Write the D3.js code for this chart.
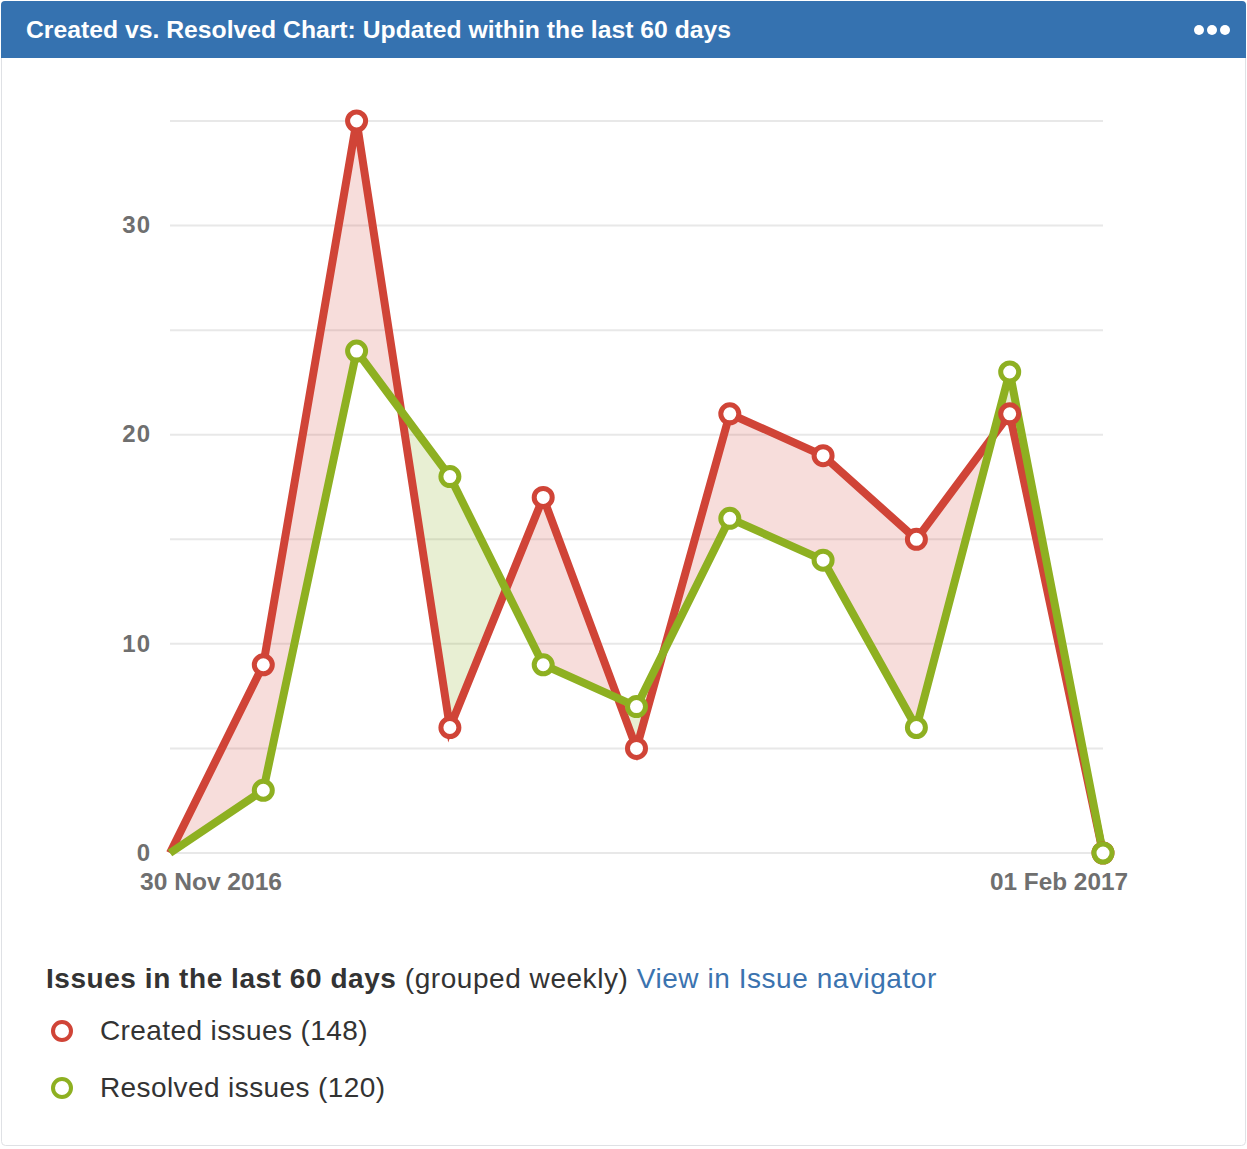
<!DOCTYPE html>
<html>
<head>
<meta charset="utf-8">
<title>Created vs. Resolved</title>
<script src="https://cdn.jsdelivr.net/npm/d3@7"></script>
<style>
  body { margin: 0; background: #fff; font-family: "Liberation Sans", Arial, sans-serif; }
</style>
</head>
<body>
<script>
// weekly buckets, 30 Nov 2016 .. 01 Feb 2017
var weeks = [0, 1, 2, 3, 4, 5, 6, 7, 8, 9, 10];
var created = [0, 9, 35, 6, 17, 5, 21, 19, 15, 21, 0];
var resolved = [0, 3, 24, 18, 9, 7, 16, 14, 6, 23, 0];
var yTicks = [0, 10, 20, 30];
var gridTicks = [0, 5, 10, 15, 20, 25, 30, 35];
var dateLabels = ["30 Nov 2016", "01 Feb 2017"];
var title = "Created vs. Resolved Chart: Updated within the last 60 days";

var red = "#d04437", green = "#8eb021";
var W = 1247, H = 1149;

var svg = d3.select("body").append("svg").attr("width", W).attr("height", H);

// card
svg.append("rect").attr("x", 1.5).attr("y", 1.5).attr("width", W - 3).attr("height", H - 5)
  .attr("rx", 4).attr("fill", "#fff").attr("stroke", "#dfe1e5");
svg.append("path")
  .attr("d", "M1,5 a4,4 0 0 1 4,-4 H" + (W - 5) + " a4,4 0 0 1 4,4 V58 H1 Z")
  .attr("fill", "#3572b0");
svg.append("text").attr("x", 26).attr("y", 38).text(title)
  .attr("fill", "#fff").attr("font-weight", "bold").attr("font-size", 23)
  .attr("textLength", 705).attr("lengthAdjust", "spacingAndGlyphs");
[1199, 1212, 1225].forEach(function (cx) {
  svg.append("circle").attr("cx", cx).attr("cy", 30).attr("r", 5).attr("fill", "#fff");
});

var x = d3.scaleLinear().domain([0, 10]).range([170, 1103]);
var y = d3.scaleLinear().domain([0, 35]).range([853, 121]);

// grid
svg.append("g").selectAll("line").data(gridTicks).join("line")
  .attr("x1", 170).attr("x2", 1103)
  .attr("y1", function (d) { return y(d); }).attr("y2", function (d) { return y(d); })
  .attr("stroke", "#e8e8e8").attr("stroke-width", 2);

// y axis labels
var yAxis = d3.axisLeft(y).tickValues(yTicks).tickSize(0).tickPadding(0);
var ya = svg.append("g").attr("transform", "translate(151,0)").call(yAxis);
ya.select(".domain").remove();
ya.selectAll("text").attr("font-family", "Liberation Sans, Arial, sans-serif")
  .attr("font-size", 24).attr("font-weight", "bold").attr("fill", "#6f6f6f")
  .attr("letter-spacing", 1).attr("dy", "0.3em");

// x labels
svg.append("text").attr("x", x(0) - 30).attr("y", 890).text(dateLabels[0])
  .attr("font-size", 24).attr("font-weight", "bold").attr("fill", "#6f6f6f")
  .attr("textLength", 142).attr("lengthAdjust", "spacingAndGlyphs");
svg.append("text").attr("x", x(10) - 113).attr("y", 890).text(dateLabels[1])
  .attr("font-size", 24).attr("font-weight", "bold").attr("fill", "#6f6f6f")
  .attr("textLength", 138).attr("lengthAdjust", "spacingAndGlyphs");

// difference fill
var defs = svg.append("defs");
defs.append("clipPath").attr("id", "below").append("path")
  .attr("d", d3.area().x(function (d) { return x(d); }).y0(H).y1(function (d) { return y(created[d]); })(weeks));
defs.append("clipPath").attr("id", "above").append("path")
  .attr("d", d3.area().x(function (d) { return x(d); }).y0(0).y1(function (d) { return y(created[d]); })(weeks));

var between = d3.area().x(function (d) { return x(d); })
  .y0(function (d) { return y(resolved[d]); }).y1(function (d) { return y(created[d]); });
svg.append("path").attr("d", between(weeks)).attr("clip-path", "url(#below)")
  .attr("fill", red).attr("fill-opacity", 0.18);
svg.append("path").attr("d", between(weeks)).attr("clip-path", "url(#above)")
  .attr("fill", green).attr("fill-opacity", 0.2);

function drawSeries(vals, color) {
  var line = d3.line().x(function (d, i) { return x(i); }).y(function (d) { return y(d); });
  svg.append("path").attr("d", line(vals)).attr("fill", "none")
    .attr("stroke", color).attr("stroke-width", 8).attr("stroke-linejoin", "miter");
}
function drawMarkers(vals, color) {
  svg.append("g").selectAll("circle").data(vals.slice(1)).join("circle")
    .attr("cx", function (d, i) { return x(i + 1); }).attr("cy", function (d) { return y(d); })
    .attr("r", 9).attr("fill", "#fff").attr("stroke", color).attr("stroke-width", 5);
}
drawSeries(created, red);
drawSeries(resolved, green);
drawMarkers(created, red);
drawMarkers(resolved, green);

// legend
var lg = svg.append("text").attr("x", 46).attr("y", 988).attr("font-size", 28)
  .attr("fill", "#333").attr("letter-spacing", 0.55);
lg.append("tspan").attr("font-weight", "bold").text("Issues in the last 60 days");
lg.append("tspan").text(" (grouped weekly) ");
lg.append("tspan").attr("fill", "#3b73af").text("View in Issue navigator");

var legendItems = [
  { label: "Created issues (" + d3.sum(created) + ")", color: red },
  { label: "Resolved issues (" + d3.sum(resolved) + ")", color: green }
];
var li = svg.append("g").selectAll("g").data(legendItems).join("g")
  .attr("transform", function (d, i) { return "translate(0," + (1031 + i * 57) + ")"; });
li.append("circle").attr("cx", 62).attr("cy", 0).attr("r", 9)
  .attr("fill", "#fff").attr("stroke", function (d) { return d.color; }).attr("stroke-width", 4);
li.append("text").attr("x", 100).attr("y", 9).attr("font-size", 28).attr("fill", "#333")
  .attr("letter-spacing", 0.4)
  .text(function (d) { return d.label; });
</script>
</body>
</html>
